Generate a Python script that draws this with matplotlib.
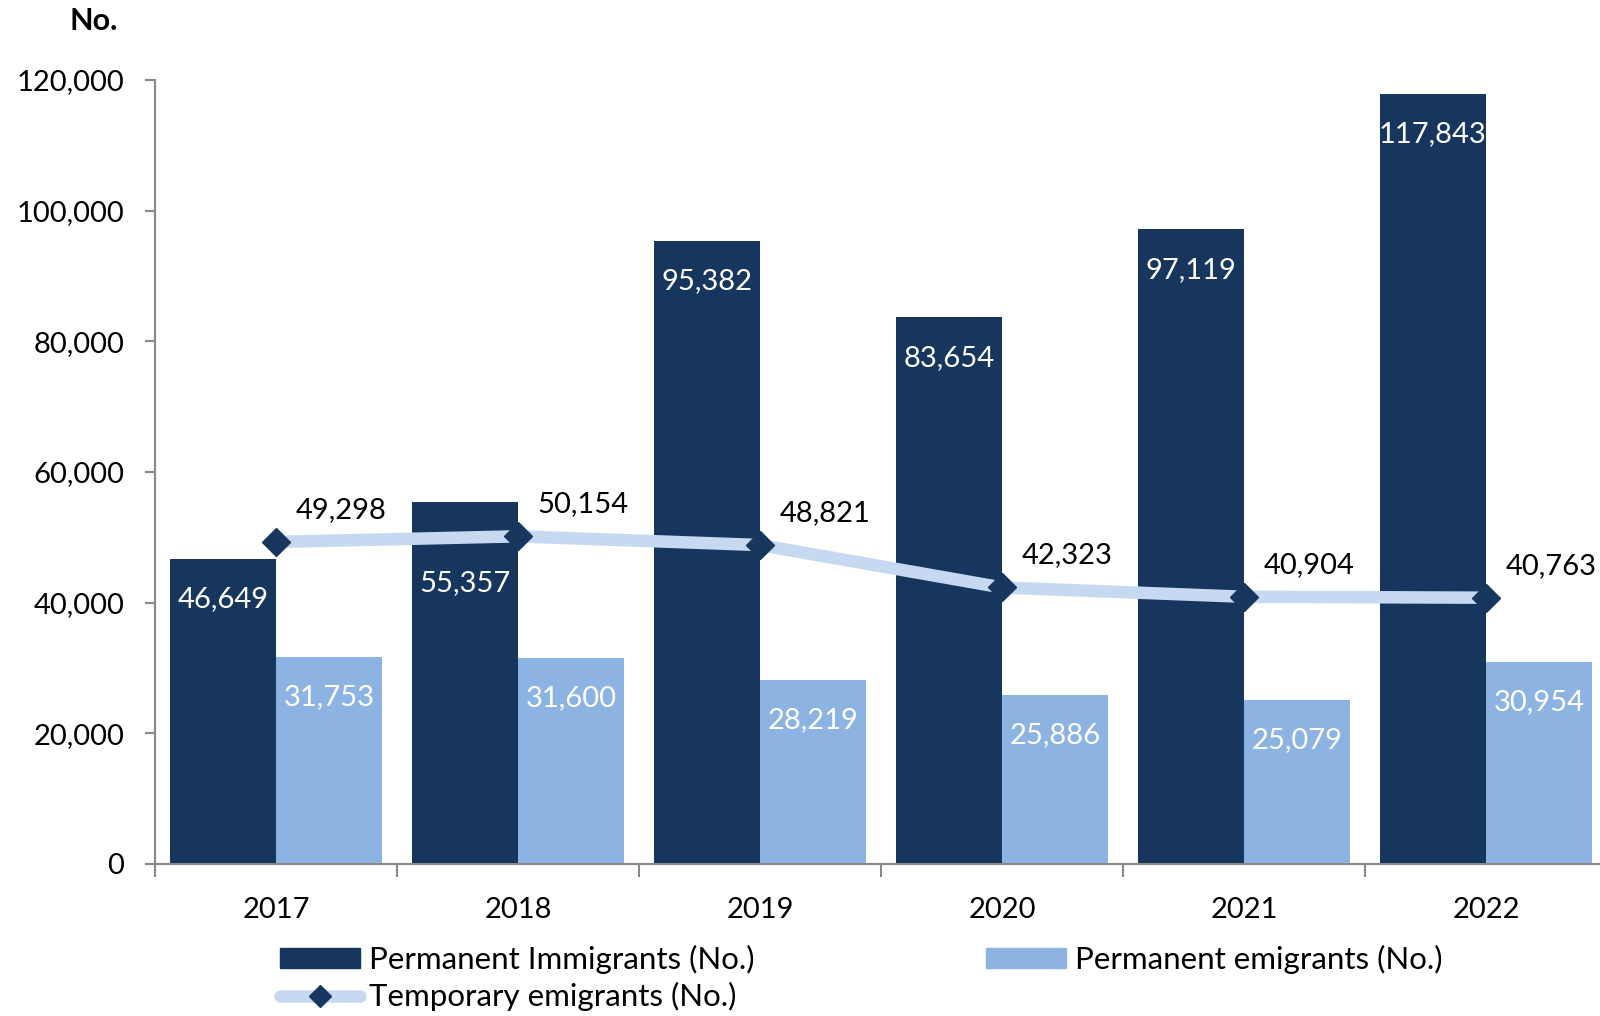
import matplotlib.pyplot as plt
import numpy as np
from matplotlib.patches import Patch
from matplotlib.lines import Line2D
from matplotlib.ticker import FuncFormatter, FixedLocator

years = ["2017", "2018", "2019", "2020", "2021", "2022"]
immigrants = [46649, 55357, 95382, 83654, 97119, 117843]
perm_emigrants = [31753, 31600, 28219, 25886, 25079, 30954]
temp_emigrants = [49298, 50154, 48821, 42323, 40904, 40763]

navy = "#17365d"
light = "#8db3e2"
line_col = "#c6d9f1"
marker_col = "#17375e"

plt.rcParams["font.family"] = ["Lato", "DejaVu Sans"]
fs = 21

fig = plt.figure(figsize=(16, 10.16), dpi=100)
ax = fig.add_axes([155 / 1600, 1 - 864 / 1016, 1452 / 1600, (864 - 80) / 1016])

x = np.arange(len(years))
w = 0.44

ax.bar(x - w / 2, immigrants, w, color=navy, zorder=2)
ax.bar(x + w / 2, perm_emigrants, w, color=light, zorder=2)
ax.plot(x, temp_emigrants, color=line_col, lw=9, solid_capstyle="round",
        marker="D", markersize=14, markerfacecolor=marker_col,
        markeredgecolor=marker_col, zorder=3)

# 2018 label sits lower so the line doesn't cover it
imm_offsets = [-29, -58, -29, -29, -29, -29]
for xi, v, dy in zip(x, immigrants, imm_offsets):
    ax.annotate(f"{v:,}", (xi - w / 2, v), xytext=(0, dy), textcoords="offset points",
                ha="center", va="center", color="white", fontsize=fs, zorder=4)
for xi, v in zip(x, perm_emigrants):
    ax.annotate(f"{v:,}", (xi + w / 2, v), xytext=(0, -29), textcoords="offset points",
                ha="center", va="center", color="white", fontsize=fs, zorder=4)
for xi, v in zip(x, temp_emigrants):
    ax.annotate(f"{v:,}", (xi, v), xytext=(47, 23), textcoords="offset points",
                ha="center", va="center", color="black", fontsize=fs, zorder=4)

ax.set_xlim(-0.5, len(years) - 0.5)
ax.set_ylim(0, 120000)
ax.set_yticks(np.arange(0, 120001, 20000))
ax.yaxis.set_major_formatter(FuncFormatter(lambda v, p: f"{int(v):,}"))
ax.tick_params(axis="y", direction="out", length=7, width=1.5, color="#888888",
               labelsize=fs, pad=15)

ax.xaxis.set_major_locator(FixedLocator(np.arange(-0.5, len(years), 1.0)))
ax.xaxis.set_minor_locator(FixedLocator(x))
ax.set_xticklabels([], minor=False)
ax.set_xticklabels(years, minor=True)
ax.tick_params(axis="x", which="major", direction="out", length=9, width=1.5, color="#888888")
ax.tick_params(axis="x", which="minor", length=0, labelsize=fs, pad=24)

for s in ["top", "right"]:
    ax.spines[s].set_visible(False)
for s in ["left", "bottom"]:
    ax.spines[s].set_color("#888888")
    ax.spines[s].set_linewidth(1.5)

fig.text(94 / 1600, 1 - 21 / 1016, "No.", ha="center", va="center",
         fontsize=22, fontweight="bold")

handles = [
    Patch(color=navy),
    Line2D([0], [0], color=line_col, lw=9, solid_capstyle="round", marker="D",
           markersize=11, markerfacecolor=marker_col, markeredgecolor=marker_col),
    Patch(color=light),
]
labels = ["Permanent Immigrants (No.)", "Temporary emigrants (No.)", "Permanent emigrants (No.)"]
fig.legend(handles, labels, ncol=2, loc="upper left",
           bbox_to_anchor=(280 / 1600, 1 - 945 / 1016), frameon=False,
           fontsize=22.5, handlelength=2.55, handleheight=0.6, handletextpad=0.3,
           columnspacing=7.4, labelspacing=0.25, borderpad=0, borderaxespad=0)

fig.savefig("out.png", dpi=100)
